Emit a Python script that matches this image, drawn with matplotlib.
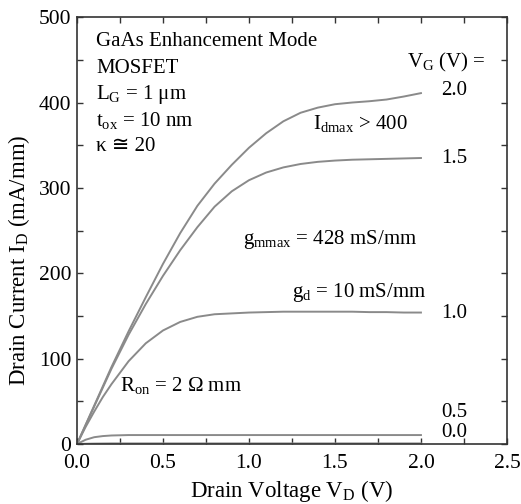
import matplotlib
matplotlib.use("Agg")
import matplotlib.pyplot as plt
from matplotlib.ticker import MultipleLocator

plt.rcParams['font.family'] = ['Liberation Serif', 'DejaVu Sans']
plt.rcParams['mathtext.fontset'] = 'custom'
plt.rcParams['mathtext.rm'] = 'Liberation Serif'
plt.rcParams['mathtext.it'] = 'Liberation Serif:italic'

# drain voltage grid (V)
vd = [0.0, 0.05, 0.1, 0.15, 0.2, 0.3, 0.4, 0.5, 0.6, 0.7, 0.8, 0.9, 1.0,
      1.1, 1.2, 1.3, 1.4, 1.5, 1.6, 1.7, 1.8, 1.9, 2.0]

# drain current (mA/mm) for each gate voltage
id_vg20 = [0, 22.5, 45, 67.5, 90, 132, 172, 211, 247, 279, 305, 327, 347,
           364, 378, 388, 394, 398, 400, 401.5, 403.5, 407, 411]
id_vg15 = [0, 22, 44, 66, 88, 128, 164, 197, 227, 254, 278, 296, 309,
           318, 324, 328, 330.5, 332, 333, 333.5, 334, 334.5, 335]
id_vg10 = [0, 20, 38, 55, 70, 97, 118, 133, 143, 149, 152, 153, 154,
           154.5, 155, 155, 155, 155, 155, 154.5, 154.5, 154, 154]
id_vg05 = [0, 5, 8, 9.3, 10, 10.5, 10.5, 10.5, 10.5, 10.5, 10.5, 10.5, 10.5,
           10.5, 10.5, 10.5, 10.5, 10.5, 10.5, 10.5, 10.5, 10.5, 10.5]
id_vg00 = [0, 0.3, 0.5, 0.6, 0.7, 0.7, 0.7, 0.7, 0.7, 0.7, 0.7, 0.7, 0.7,
           0.7, 0.7, 0.7, 0.7, 0.7, 0.7, 0.7, 0.7, 0.7, 0.7]

vg_labels = ["2.0", "1.5", "1.0", "0.5", "0.0"]
vg_label_y = [414, 334, 153, 37, 14]

fig = plt.figure(figsize=(5.21, 5.04), dpi=100)
ax = fig.add_axes([0.1478, 0.119, 0.8252, 0.847])

for cur in [id_vg20, id_vg15, id_vg10, id_vg05, id_vg00]:
    ax.plot(vd, cur, color="#8a8a8a", lw=1.4)

ax.set_xlim(0, 2.5)
ax.set_ylim(0, 500)
ax.xaxis.set_major_locator(MultipleLocator(0.5))
ax.xaxis.set_minor_locator(MultipleLocator(0.25))
ax.yaxis.set_major_locator(MultipleLocator(100))
ax.yaxis.set_minor_locator(MultipleLocator(50))
ax.xaxis.set_major_formatter(plt.FormatStrFormatter('%.1f'))
ax.tick_params(which='both', direction='in', top=True, right=True,
               length=4, width=1, colors='#333333', labelsize=15.5,
               labelcolor='black')
ax.tick_params(axis='x', which='major', pad=7)
ax.tick_params(axis='y', which='major', pad=4)
for s in ax.spines.values():
    s.set_color('#333333')
    s.set_linewidth(1.2)

ax.set_xlabel(r"Drain Voltage V$_\mathrm{D}$ (V)", fontsize=16.5, labelpad=4)
ax.set_ylabel(r"Drain Current I$_\mathrm{D}$ (mA/mm)", fontsize=16.5)
ax.yaxis.set_label_coords(-0.105, 0.43)

fs = 15
info = ["GaAs Enhancement Mode", "MOSFET", r"L$_\mathrm{G}$ = 1 μm",
        r"t$_\mathrm{ox}$ = 10 nm", "κ ≅ 20"]
info_y = [471, 440, 409, 379, 348]
for t, y in zip(info, info_y):
    ax.text(0.11, y, t, fontsize=fs, va='center', ha='left')

ax.text(1.92, 447, r"V$_\mathrm{G}$ (V) =", fontsize=fs, va='center', ha='left')
for t, y in zip(vg_labels, vg_label_y):
    ax.text(2.12, y, t, fontsize=fs, va='center', ha='left')

ax.text(1.37, 376, r"I$_\mathrm{dmax}$ > 400", fontsize=fs, va='center', ha='left')
ax.text(0.965, 239, r"g$_\mathrm{mmax}$ = 428 mS/mm", fontsize=fs, va='center', ha='left')
ax.text(1.25, 178, r"g$_\mathrm{d}$ = 10 mS/mm", fontsize=fs, va='center', ha='left')
ax.text(0.25, 69, r"R$_\mathrm{on}$ = 2 Ω mm", fontsize=fs, va='center', ha='left')

fig.savefig("out.png", dpi=100)
